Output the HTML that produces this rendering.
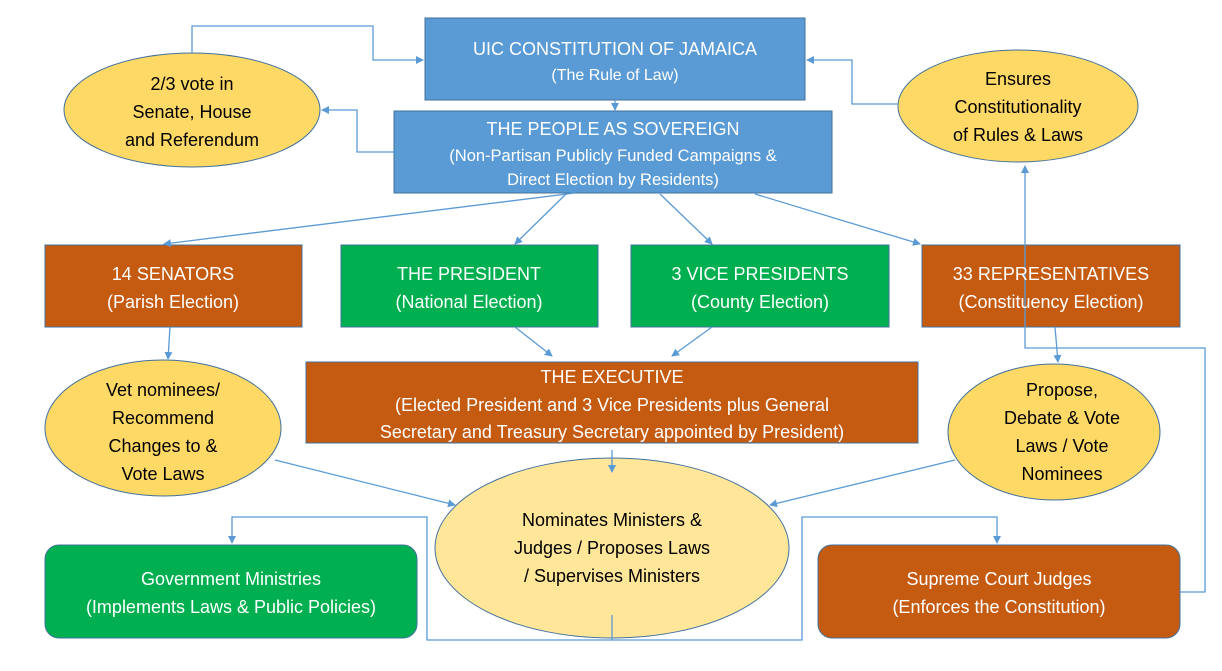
<!DOCTYPE html>
<html><head><meta charset="utf-8"><style>
html,body{margin:0;padding:0;background:#fff;}
svg{display:block;}
text{font-family:"Liberation Sans",sans-serif;font-size:18px;text-anchor:middle;}
.w{fill:#fff;}
.k{fill:#000;}
</style></head><body>
<svg width="1222" height="671" viewBox="0 0 1222 671" xmlns="http://www.w3.org/2000/svg">
<defs>
<marker id="a" markerWidth="8" markerHeight="8" refX="7" refY="4" orient="auto" markerUnits="userSpaceOnUse">
<path d="M0,0 L8,4 L0,8 z" fill="#5b9bd5"/>
</marker>
</defs>
<g stroke="#41719c" stroke-width="1">
<rect x="425" y="18" width="380" height="82" fill="#5b9bd5"/>
<rect x="394" y="111" width="438" height="82" fill="#5b9bd5"/>
<rect x="45" y="245" width="257" height="82" fill="#c55a11"/>
<rect x="341" y="245" width="257" height="82" fill="#00b050"/>
<rect x="631" y="245" width="258" height="82" fill="#00b050"/>
<rect x="922" y="245" width="258" height="82" fill="#c55a11"/>
<rect x="306" y="362" width="612" height="81" fill="#c55a11"/>
<rect x="45" y="545" width="372" height="93" rx="14" fill="#00b050"/>
<rect x="818" y="545" width="362" height="93" rx="14" fill="#c55a11"/>
<ellipse cx="192" cy="110" rx="128" ry="57" fill="#ffd966"/>
<ellipse cx="1018" cy="106" rx="120" ry="56" fill="#ffd966"/>
<ellipse cx="163" cy="428" rx="118" ry="68" fill="#ffd966"/>
<ellipse cx="1054" cy="432" rx="106" ry="68" fill="#ffd966"/>
<ellipse cx="612" cy="548" rx="177" ry="90" fill="#ffe699"/>
</g>
<g fill="none" stroke="#5b9bd5" stroke-width="1.3">
<polyline points="192,53 192,26 373,26 373,60 423,60" marker-end="url(#a)"/>
<polyline points="394,152 357,152 357,110 322,110" marker-end="url(#a)"/>
<line x1="615" y1="100" x2="615" y2="110" marker-end="url(#a)"/>
<polyline points="898,104 852,104 852,60 807,60" marker-end="url(#a)"/>
<line x1="575" y1="193" x2="164" y2="244" marker-end="url(#a)"/>
<line x1="566" y1="194" x2="515" y2="244" marker-end="url(#a)"/>
<line x1="660" y1="194" x2="712" y2="244" marker-end="url(#a)"/>
<line x1="755" y1="194" x2="920" y2="244" marker-end="url(#a)"/>
<line x1="170" y1="327" x2="168" y2="359" marker-end="url(#a)"/>
<line x1="515" y1="327" x2="552" y2="356" marker-end="url(#a)"/>
<line x1="712" y1="327" x2="672" y2="356" marker-end="url(#a)"/>
<line x1="1055" y1="327" x2="1058" y2="362" marker-end="url(#a)"/>
<line x1="612" y1="450" x2="612" y2="472" marker-end="url(#a)"/>
<line x1="275" y1="460" x2="455" y2="505" marker-end="url(#a)"/>
<line x1="955" y1="460" x2="770" y2="505" marker-end="url(#a)"/>
<polyline points="612,615 612,640 427,640 427,517 232,517 232,543" marker-end="url(#a)"/>
<polyline points="612,640 802,640 802,517 997,517 997,543" marker-end="url(#a)"/>
<polyline points="1180,592 1205,592 1205,348 1025,348 1025,166" marker-end="url(#a)"/>
</g>
<text class="w" x="615" y="55">UIC CONSTITUTION OF JAMAICA</text>
<text class="w" x="615" y="80" style="font-size:16px">(The Rule of Law)</text>
<text class="w" x="613" y="135">THE PEOPLE AS SOVEREIGN</text>
<text class="w" x="613" y="161" style="font-size:16.5px">(Non-Partisan Publicly Funded Campaigns &amp;</text>
<text class="w" x="613" y="185" style="font-size:16.5px">Direct Election by Residents)</text>
<text class="w" x="173" y="280">14 SENATORS</text>
<text class="w" x="173" y="308">(Parish Election)</text>
<text class="w" x="469" y="280">THE PRESIDENT</text>
<text class="w" x="469" y="308">(National Election)</text>
<text class="w" x="760" y="280">3 VICE PRESIDENTS</text>
<text class="w" x="760" y="308">(County Election)</text>
<text class="w" x="1051" y="280">33 REPRESENTATIVES</text>
<text class="w" x="1051" y="308">(Constituency Election)</text>
<text class="w" x="612" y="383">THE EXECUTIVE</text>
<text class="w" x="612" y="411">(Elected President and 3 Vice Presidents plus General</text>
<text class="w" x="612" y="438">Secretary and Treasury Secretary appointed by President)</text>
<text class="w" x="231" y="585">Government Ministries</text>
<text class="w" x="231" y="613">(Implements Laws &amp; Public Policies)</text>
<text class="w" x="999" y="585">Supreme Court Judges</text>
<text class="w" x="999" y="613">(Enforces the Constitution)</text>
<text class="k" x="192" y="90">2/3 vote in</text>
<text class="k" x="192" y="118">Senate, House</text>
<text class="k" x="192" y="146">and Referendum</text>
<text class="k" x="1018" y="85">Ensures</text>
<text class="k" x="1018" y="113">Constitutionality</text>
<text class="k" x="1018" y="141">of Rules &amp; Laws</text>
<text class="k" x="163" y="396">Vet nominees/</text>
<text class="k" x="163" y="424">Recommend</text>
<text class="k" x="163" y="452">Changes to &amp;</text>
<text class="k" x="163" y="480">Vote Laws</text>
<text class="k" x="1062" y="396">Propose,</text>
<text class="k" x="1062" y="424">Debate &amp; Vote</text>
<text class="k" x="1062" y="452">Laws / Vote</text>
<text class="k" x="1062" y="480">Nominees</text>
<text class="k" x="612" y="526">Nominates Ministers &amp;</text>
<text class="k" x="612" y="554">Judges / Proposes Laws</text>
<text class="k" x="612" y="582">/ Supervises Ministers</text>
</svg>
</body></html>
